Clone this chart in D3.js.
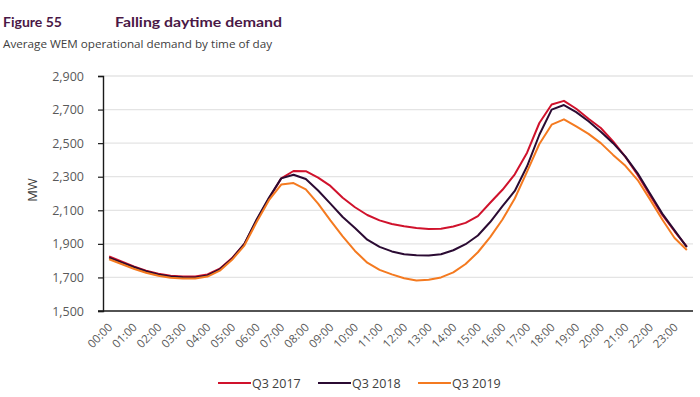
<!DOCTYPE html>
<html><head><meta charset="utf-8">
<script src="https://cdn.jsdelivr.net/npm/d3@7"></script>
<style>body{margin:0;background:#fff}svg{display:block}</style>
</head><body>
<svg id="chart" width="700" height="397"></svg>
<script>
// ---- data ----
const times = [];
for (let h = 0; h < 24; h++) { const hh = String(h).padStart(2, "0"); times.push(hh + ":00", hh + ":30"); }
const tickLabels = ["00:00","01:00","02:00","03:00","04:00","05:00","06:00","07:00","08:00","09:00","10:00","11:00","12:00","13:00","14:00","15:00","16:00","17:00","18:00","19:00","20:00","21:00","22:00","23:00"];
const q3_2017 = [1825,1795,1765,1740,1722,1710,1706,1705,1718,1752,1815,1900,2040,2170,2290,2334,2333,2295,2245,2175,2118,2072,2040,2018,2005,1995,1988,1990,2003,2025,2065,2145,2222,2314,2443,2620,2730,2752,2705,2645,2590,2510,2418,2310,2190,2072,1975,1883];
const q3_2018 = [1818,1790,1762,1737,1718,1706,1701,1700,1712,1748,1812,1900,2045,2175,2290,2312,2286,2218,2140,2060,1995,1925,1882,1855,1838,1832,1830,1838,1862,1898,1950,2030,2125,2215,2362,2550,2700,2727,2685,2630,2568,2500,2420,2320,2200,2080,1980,1880];
const q3_2019 = [1808,1780,1752,1728,1710,1698,1694,1694,1705,1740,1805,1890,2030,2160,2253,2262,2225,2140,2040,1945,1858,1788,1745,1718,1695,1682,1686,1700,1730,1780,1850,1940,2045,2170,2330,2495,2610,2642,2600,2555,2500,2430,2365,2280,2165,2045,1935,1863];
const seriesNames = ["Q3 2017","Q3 2018","Q3 2019"];
const seriesColors = ["#d0122c","#2b0b33","#f47a20"];
const yTicks = [1500,1700,1900,2100,2300,2500,2700,2900];

const series = [q3_2017, q3_2018, q3_2019];

const svg = d3.select("#chart");
const mLeft = 103, mRight = 693, mTop = 76, mBottom = 311;

const x = d3.scaleBand().domain(times).range([mLeft, mRight]);
const y = d3.scaleLinear().domain([1500, 2900]).range([mBottom, mTop]);
const cx = t => x(t) + x.bandwidth() / 2;

// titles
svg.append("text").attr("x", 3).attr("y", 27).attr("font-family", "Lato, 'DejaVu Sans', sans-serif")
  .attr("font-weight", "bold").attr("font-size", 14).attr("fill", "#4a1846")
  .attr("textLength", 59).attr("lengthAdjust", "spacingAndGlyphs").text("Figure 55");
svg.append("text").attr("x", 115).attr("y", 27).attr("font-family", "Lato, 'DejaVu Sans', sans-serif")
  .attr("font-weight", "bold").attr("font-size", 14).attr("fill", "#4a1846")
  .attr("textLength", 167).attr("lengthAdjust", "spacingAndGlyphs").text("Falling daytime demand");
svg.append("text").attr("x", 3).attr("y", 48).attr("font-family", "'Open Sans', sans-serif")
  .attr("font-size", 11).attr("fill", "#404040")
  .attr("textLength", 269).attr("lengthAdjust", "spacingAndGlyphs").text("Average WEM operational demand by time of day");

// gridlines
svg.append("g").selectAll("line").data(yTicks.filter(d => d > 1500)).join("line")
  .attr("x1", mLeft).attr("x2", mRight).attr("y1", d => y(d)).attr("y2", d => y(d))
  .attr("stroke", "#e4e4e4").attr("stroke-width", 1.3);

// y axis
const yAxis = d3.axisLeft(y).tickValues(yTicks).tickSize(5).tickPadding(14).tickFormat(d3.format(","));
const gy = svg.append("g").attr("transform", `translate(${mLeft},0)`).call(yAxis);
gy.select(".domain").attr("stroke", "#1a1a1a").attr("stroke-width", 1.4);
gy.selectAll(".tick line").attr("stroke", "#1a1a1a").attr("stroke-width", 1.2);
gy.selectAll("text").attr("font-family", "'Open Sans', sans-serif").attr("font-size", 12.5).attr("fill", "#595959");

// x axis
const xAxis = d3.axisBottom(x).tickValues(times.filter((d, i) => i % 2 === 0)).tickSize(0).tickFormat(d => d);
const gx = svg.append("g").attr("transform", `translate(0,${mBottom})`).call(xAxis);
gx.select(".domain").attr("stroke", "#1a1a1a").attr("stroke-width", 1.4)
  .attr("d", `M${mLeft - 5},0H${mRight}`);
gx.selectAll("text").attr("font-family", "'Open Sans', sans-serif").attr("font-size", 11.5).attr("fill", "#595959")
  .attr("text-anchor", "end").attr("dy", 0).attr("y", 0)
  .attr("transform", "translate(4,17) rotate(-45)");

// MW label
svg.append("text").attr("transform", "translate(37,190) rotate(-90)").attr("text-anchor", "middle")
  .attr("font-family", "'Open Sans', sans-serif").attr("font-size", 13).attr("fill", "#404040").text("MW");

// lines
const line = d3.line().x((d, i) => cx(times[i])).y(d => y(d));
svg.append("g").selectAll("path").data(series).join("path")
  .attr("d", d => line(d)).attr("fill", "none")
  .attr("stroke", (d, i) => seriesColors[i]).attr("stroke-width", 2).attr("stroke-linejoin", "round");

// legend
const legendX = [218, 318, 418];
const lg = svg.append("g").selectAll("g").data(seriesNames).join("g")
  .attr("transform", (d, i) => `translate(${legendX[i]},383)`);
lg.append("line").attr("x1", 0).attr("x2", 33).attr("stroke", (d, i) => seriesColors[i]).attr("stroke-width", 2);
lg.append("text").attr("x", 34).attr("y", 4.5).attr("font-family", "'Open Sans', sans-serif")
  .attr("font-size", 12.5).attr("fill", "#404040").text(d => d);
</script>
</body></html>
